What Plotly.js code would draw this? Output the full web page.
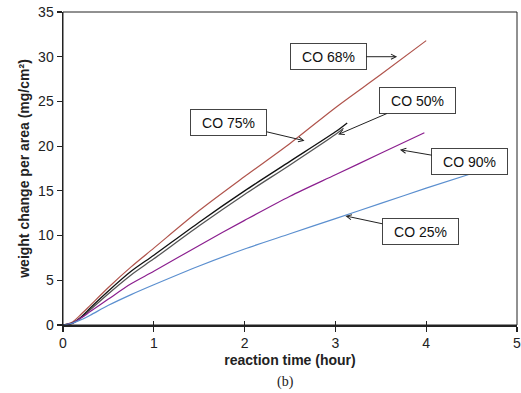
<!DOCTYPE html>
<html><head><meta charset="utf-8">
<script src="https://cdn.plot.ly/plotly-3.0.1.min.js"></script>
<style>html,body{margin:0;padding:0;background:#fff;}#chart{width:521px;height:393px;}</style>
</head><body><div id="chart"></div>
<script>
// Reaction time (hour) and weight change per area (mg/cm²) per CO concentration
const t68 = [0, 0.1, 0.2, 0.3, 0.5, 0.75, 1, 1.5, 2, 2.5, 3, 3.5, 4.0];
const w68 = [0, 0.3, 1.2, 2.2, 4.2, 6.5, 8.6, 12.8, 16.6, 20.3, 24.3, 28.0, 31.8];
const t75 = [0, 0.1, 0.2, 0.3, 0.5, 0.75, 1, 1.5, 2, 2.5, 3, 3.13];
const w75 = [0, 0.2, 0.9, 1.9, 3.8, 6.0, 7.8, 11.5, 15.0, 18.3, 21.6, 22.6];
const t50 = [0, 0.1, 0.2, 0.3, 0.5, 0.75, 1, 1.5, 2, 2.5, 3, 3.09];
const w50 = [0, 0.15, 0.8, 1.7, 3.5, 5.6, 7.4, 11.1, 14.6, 17.9, 21.3, 22.0];
const t90 = [0, 0.1, 0.2, 0.3, 0.5, 0.75, 1, 1.5, 2, 2.5, 3, 3.5, 3.98];
const w90 = [0, 0.2, 0.8, 1.5, 2.9, 4.6, 6.0, 8.9, 11.7, 14.4, 16.8, 19.2, 21.5];
const t25 = [0, 0.1, 0.2, 0.3, 0.5, 0.75, 1, 1.5, 2, 2.5, 3, 3.5, 4, 4.52];
const w25 = [0, 0.2, 0.6, 1.1, 2.2, 3.4, 4.5, 6.6, 8.5, 10.2, 11.9, 13.6, 15.3, 17.0];

const xTicks = [0, 1, 2, 3, 4, 5];
const yTicks = [0, 5, 10, 15, 20, 25, 30, 35];

const traces = [
  {x: t68, y: w68, name: 'CO 68%', mode: 'lines', line: {color: '#b0544c', width: 1.2, shape: 'spline', smoothing: 0.8}},
  {x: t50, y: w50, name: 'CO 50%', mode: 'lines', line: {color: '#555555', width: 1.3, shape: 'spline', smoothing: 0.8}},
  {x: t75, y: w75, name: 'CO 75%', mode: 'lines', line: {color: '#111111', width: 1.3, shape: 'spline', smoothing: 0.8}},
  {x: t90, y: w90, name: 'CO 90%', mode: 'lines', line: {color: '#8b1f8f', width: 1.2, shape: 'spline', smoothing: 0.8}},
  {x: t25, y: w25, name: 'CO 25%', mode: 'lines', line: {color: '#5b8fcf', width: 1.2, shape: 'spline', smoothing: 0.8}}
];

function lab(text, x, y, ax, ay) {
  return {text: text, x: x, y: y, xref: 'x', yref: 'y', ax: ax, ay: ay,
    showarrow: true, arrowhead: 5, arrowsize: 1, arrowwidth: 1, arrowcolor: '#222',
    bgcolor: '#fff', bordercolor: '#444', borderwidth: 1, borderpad: 1,
    width: 73, height: 23,
    font: {family: 'Liberation Sans, Arial, sans-serif', size: 14, color: '#111'}};
}

const font = {family: 'Liberation Sans, Arial, sans-serif', size: 14, color: '#222'};

const layout = {
  width: 521, height: 393,
  margin: {l: 63, r: 4, t: 12, b: 68},
  paper_bgcolor: '#fff', plot_bgcolor: '#fff',
  showlegend: false,
  font: font,
  xaxis: {range: [0, 5], tickvals: xTicks, ticktext: xTicks.map(String), ticklabeloverflow: 'allow',
    showgrid: false, zeroline: false, showline: true, linecolor: '#222', linewidth: 1.5,
    ticks: 'outside', ticklen: 5, tickwidth: 1.2, tickcolor: '#222',
    title: {text: 'reaction time (hour)', font: {family: font.family, size: 14, color: '#222', weight: 'bold'}, standoff: 5}},
  xaxis2: {range: [0, 5], overlaying: 'x', anchor: 'y', side: 'bottom', tickvals: xTicks,
    showticklabels: false, showgrid: false, zeroline: false, showline: false,
    ticks: 'inside', ticklen: 4, tickwidth: 1.2, tickcolor: '#222'},
  yaxis: {range: [0, 35], tickvals: yTicks, ticktext: yTicks.map(String),
    showgrid: false, zeroline: false, showline: true, linecolor: '#222', linewidth: 1.5,
    ticks: 'outside', ticklen: 5, tickwidth: 1.2, tickcolor: '#222',
    title: {text: 'weight change per area (mg/cm²)', font: {family: font.family, size: 14, color: '#222', weight: 'bold'}, standoff: 5}},
  shapes: [
    {type: 'rect', xref: 'paper', yref: 'paper', x0: 0, x1: 1, y0: 0, y1: 1, line: {color: '#222', width: 1}}
  ],
  annotations: [
    lab('CO 68%', 3.68, 30.0, -69, 0),
    lab('CO 50%', 3.03, 21.3, 79, -34),
    lab('CO 75%', 2.66, 20.6, -76, -18),
    lab('CO 90%', 3.71, 19.6, 70, 12),
    lab('CO 25%', 3.11, 12.2, 75, 16),
    {text: '(b)', xref: 'paper', yref: 'paper', x: 0.49, y: 0, yshift: -57, showarrow: false,
      xanchor: 'center', yanchor: 'middle',
      font: {family: 'Liberation Serif, Times New Roman, serif', size: 14, color: '#222'}}
  ]
};

traces.push({x: [0], y: [0], xaxis: 'x2', mode: 'markers', marker: {opacity: 0}, hoverinfo: 'skip'});

Plotly.newPlot('chart', traces, layout, {displayModeBar: false, staticPlot: true});
</script>
</body></html>
